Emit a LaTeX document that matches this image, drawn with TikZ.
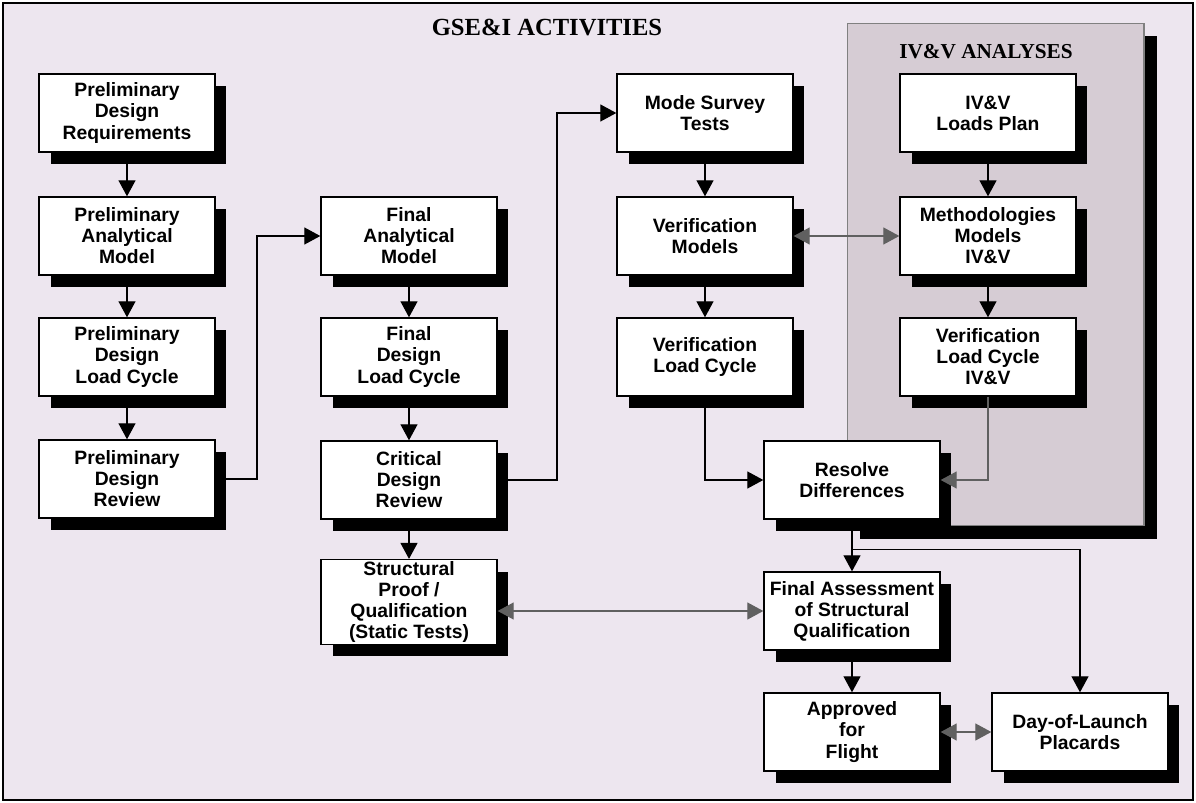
\documentclass[tikz,border=0pt]{standalone}
\usepackage{fontspec}
\setmainfont{Liberation Serif}
\setsansfont{Liberation Sans}
\usetikzlibrary{arrows.meta,shadows}

\definecolor{bgcol}{RGB}{237,230,239}
\definecolor{panelcol}{RGB}{214,204,212}
\definecolor{linkgray}{RGB}{96,96,96}

\begin{document}
\begin{tikzpicture}[x=0.02cm,y=-0.02cm,
    >={Triangle[length=0.32cm,width=0.34cm]},
    box/.style={draw, line width=0.8pt, fill=white, align=center, inner sep=1pt,
        minimum width=3.52cm, minimum height=1.56cm,
        font=\sffamily\bfseries\fontsize{11}{12}\selectfont,
        drop shadow={shadow xshift=0.23cm, shadow yshift=-0.24cm, fill=black, opacity=1}},
    panel/.style={draw=gray, line width=0.6pt, fill=panelcol,
        minimum width=5.94cm, minimum height=10.06cm,
        drop shadow={shadow xshift=0.26cm, shadow yshift=-0.26cm, fill=black, opacity=1}},
    heading/.style={font=\rmfamily\bfseries\fontsize{#1}{#1}\selectfont, inner sep=0pt},
    arr/.style={->, line width=0.7pt},
    garr/.style={line width=0.7pt, linkgray}]

\useasboundingbox (0,0) rectangle (1196,803);
\draw[line width=1.2pt, fill=bgcol] (3,3) rectangle (1193,800);

\node[heading=14] (title) at (547,28) {GSE\&I ACTIVITIES};

\node[panel] (ivv) at (995.5,274.5) {};
\node[heading=12.1] (ivvtitle) at (986,52) {IV\&V ANALYSES};

% preliminary design
\node[box] (pdreq) at (127,113) {Preliminary\\Design\\Requirements};
\node[box] (pam)   at (127,236) {Preliminary\\Analytical\\Model};
\node[box] (pdlc)  at (127,357) {Preliminary\\Design\\Load Cycle};
\node[box] (pdr)   at (127,479) {Preliminary\\Design\\Review};

% final design
\node[box] (fam)  at (409,236) {Final\\Analytical\\Model};
\node[box] (fdlc) at (409,357) {Final\\Design\\Load Cycle};
\node[box] (cdr)  at (409,480) {Critical\\Design\\Review};
\node[box] (spq)  at (409,602) {Structural\\Proof /\\Qualification\\(Static Tests)};

% verification
\node[box] (mst) at (705,113) {Mode Survey\\Tests};
\node[box] (vm)  at (705,236) {Verification\\Models};
\node[box] (vlc) at (705,357) {Verification\\Load Cycle};

% IV&V
\node[box] (ilp)  at (988,113) {IV\&V\\Loads Plan};
\node[box] (imm)  at (988,236) {Methodologies\\Models\\IV\&V};
\node[box] (ivlc) at (988,357) {Verification\\Load Cycle\\IV\&V};

\node[box] (rd)  at (852,480) {Resolve\\Differences};
\node[box] (fa)  at (852,611) {Final Assessment\\of Structural\\Qualification};
\node[box] (afl) at (852,732) {Approved\\for\\Flight};
\node[box] (dol) at (1080,732) {Day-of-Launch\\Placards};

\foreach \a/\b in {pdreq/pam, pam/pdlc, pdlc/pdr, fam/fdlc, fdlc/cdr, cdr/spq,
                   mst/vm, vm/vlc, ilp/imm, imm/ivlc, rd/fa, fa/afl}
    \draw[arr] (\a.south) -- (\b.north);

\coordinate (b1) at (257,479);
\coordinate (b2) at (557,480);
\path (rd.south) ++(0,30) coordinate (b3);

\draw[arr] (pdr.east) -- (b1) |- (fam.west);
\draw[arr] (cdr.east) -- (b2) |- (mst.west);
\draw[arr] (vlc.south) |- (rd.west);
\draw[arr] (b3) -| (dol.north);

\draw[garr, ->] (ivlc.south) |- (rd.east);
\draw[garr, <->] (vm.east) -- (imm.west);
\draw[garr, <->] (spq.east |- fa.west) -- (fa.west);
\draw[garr, <->] (afl.east) -- (dol.west);

\end{tikzpicture}
\end{document}
